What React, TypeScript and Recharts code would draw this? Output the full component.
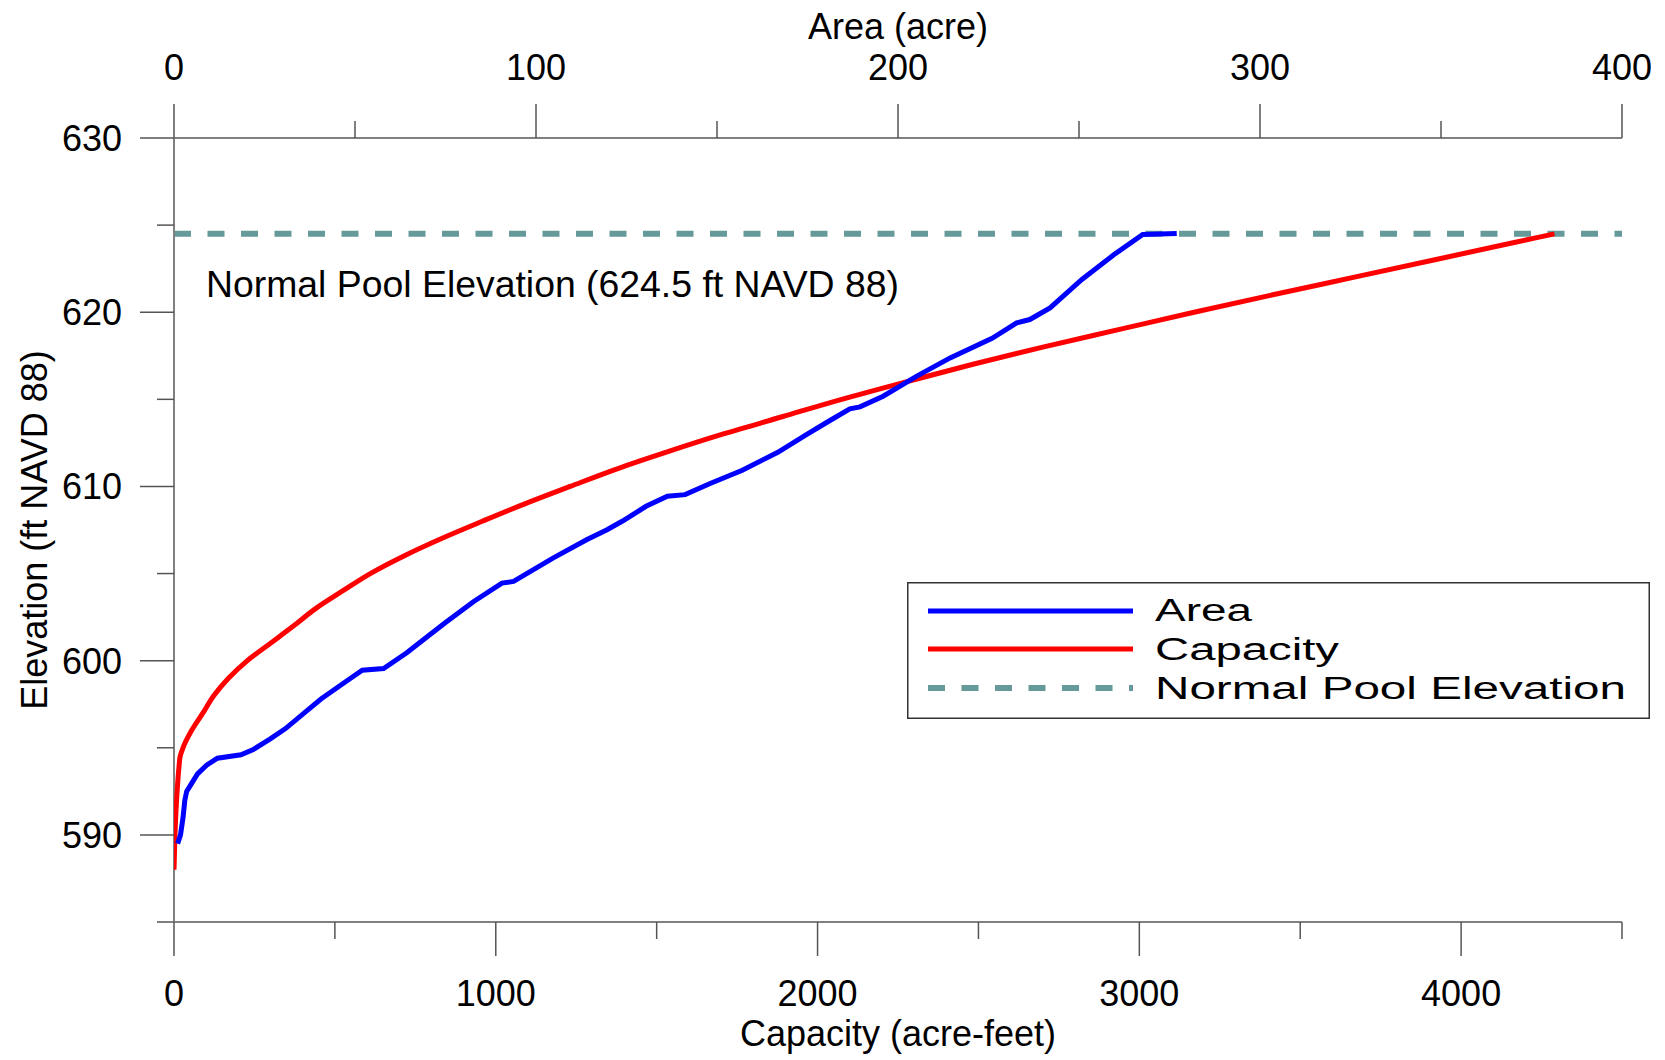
import React from 'react';
import { ScatterChart, Scatter, XAxis, YAxis, ReferenceLine, Legend } from 'recharts';

// elevation (ft NAVD 88) vs surface area (acre)
const areaElev = [589.5, 590, 591, 592, 592.5, 593, 593.5, 594, 594.4, 594.6, 594.9, 595.5, 596.1, 597, 597.8, 598.8, 599.45, 599.55, 600.45, 601.3, 602.2, 603.4, 604.45, 604.55, 605.9, 606.95, 607.5, 608, 608.86, 609.44, 609.53, 610.17, 610.93, 611.96, 612.98, 613.7, 614.45, 614.57, 615.18, 616.33, 617.38, 618.5, 619.39, 619.58, 620.25, 621.88, 623.31, 624.46, 624.52];
const areaAcres = [1.0, 1.8, 2.5, 3.0, 3.5, 5.0, 6.5, 9.0, 12.0, 18.5, 21.9, 26.5, 30.8, 36, 40.6, 47.5, 52.0, 57.9, 64.3, 69.5, 75.1, 82.8, 90.6, 93.8, 104.8, 114.1, 119.5, 123.8, 130.4, 136.3, 141.2, 148.1, 157.0, 166.8, 174.7, 180.5, 186.7, 189.5, 195.9, 205.2, 214.4, 226, 232.8, 236.4, 242.0, 250.8, 259.7, 267.6, 277.0];

// elevation vs storage capacity (acre-feet)
const capElev = [588, 590, 592, 594, 594.5, 595, 596, 597, 598, 599, 600, 601, 602, 603, 604, 605, 606, 607, 608, 609, 610, 611, 612, 613, 614, 615, 616, 617, 618, 619, 620, 621, 622, 623, 624, 624.5];
const capAcreFt = [0, 3, 8, 16, 19, 28, 55, 90, 124, 170, 228, 300, 372, 441, 524, 610, 713, 830, 958, 1090, 1231, 1375, 1535, 1705, 1890, 2075, 2275, 2480, 2700, 2935, 3170, 3415, 3665, 3915, 4165, 4290];

const normalPool = 624.5;

const capTicks = [0, 500, 1000, 1500, 2000, 2500, 3000, 3500, 4000, 4500];
const areaTicks = [0, 50, 100, 150, 200, 250, 300, 350, 400];
const elevTicks = [585, 590, 595, 600, 605, 610, 615, 620, 625, 630];

const areaData = areaElev.map((e, i) => ({ elev: e, area: areaAcres[i] }));
const capData = capElev.map((e, i) => ({ elev: e, capacity: capAcreFt[i] }));

const FONT = '"Liberation Sans", Arial, sans-serif';
const AXIS = '#808080';
const TICK = '#555555';
const POOL = '#669999';

const noDot = () => <g />;

const BottomTick = (props: any) => {
  const { x, y, payload } = props;
  const major = payload.value % 1000 === 0;
  return (
    <g>
      <line x1={x} y1={y} x2={x} y2={y + (major ? 34 : 17)} stroke={TICK} strokeWidth={1.5} />
      {major && (
        <text x={x} y={y + 84} textAnchor="middle" fontSize={36} fontFamily={FONT} fill="#000">
          {payload.value}
        </text>
      )}
    </g>
  );
};

const TopTick = (props: any) => {
  const { x, y, payload } = props;
  const major = payload.value % 100 === 0;
  return (
    <g>
      <line x1={x} y1={y} x2={x} y2={y - (major ? 34 : 17)} stroke={TICK} strokeWidth={1.5} />
      {major && (
        <text x={x} y={y - 58} textAnchor="middle" fontSize={36} fontFamily={FONT} fill="#000">
          {payload.value}
        </text>
      )}
    </g>
  );
};

const LeftTick = (props: any) => {
  const { x, y, payload } = props;
  const major = payload.value % 10 === 0;
  return (
    <g>
      <line x1={x} y1={y} x2={x - (major ? 34 : 17)} y2={y} stroke={TICK} strokeWidth={1.5} />
      {major && (
        <text x={x - 52} y={y + 13} textAnchor="end" fontSize={36} fontFamily={FONT} fill="#000">
          {payload.value}
        </text>
      )}
    </g>
  );
};

const LegendBox = () => (
  <svg width={743} height={137} style={{ display: 'block' }}>
    <rect x={0.75} y={0.75} width={741.5} height={135.5} fill="#fff" stroke="#333" strokeWidth={1.5} />
    <line x1={21} y1={29} x2={226} y2={29} stroke="#0000ff" strokeWidth={5} />
    <line x1={21} y1={67} x2={226} y2={67} stroke="#ff0000" strokeWidth={5} />
    <line x1={21} y1={106} x2={226} y2={106} stroke={POOL} strokeWidth={6} strokeDasharray="17 16.5" />
    <text x={248} y={39} fontSize={31} fontFamily={FONT} textLength={97} lengthAdjust="spacingAndGlyphs">Area</text>
    <text x={248} y={78} fontSize={31} fontFamily={FONT} textLength={184} lengthAdjust="spacingAndGlyphs">Capacity</text>
    <text x={248} y={117} fontSize={31} fontFamily={FONT} textLength={471} lengthAdjust="spacingAndGlyphs">Normal Pool Elevation</text>
  </svg>
);

export default function App() {
  return (
    <div style={{ position: 'absolute', left: 0, top: 0, fontFamily: FONT }}>
      <ScatterChart width={1665} height={1060} margin={{ top: 0, right: 43, bottom: 0, left: 0 }}>
        <XAxis
          xAxisId="cap"
          dataKey="capacity"
          type="number"
          orientation="bottom"
          domain={[0, 4500]}
          ticks={capTicks}
          interval={0}
          height={138}
          tickSize={0}
          tickMargin={0}
          tick={<BottomTick />}
          axisLine={{ stroke: AXIS, strokeWidth: 2 }}
          allowDataOverflow
          label={(p: any) => {
            const vb = p.viewBox;
            return (
              <text x={vb.x + vb.width / 2} y={vb.y + 124} textAnchor="middle" fontSize={36} fontFamily={FONT} fill="#000">
                Capacity (acre-feet)
              </text>
            );
          }}
        />
        <XAxis
          xAxisId="area"
          dataKey="area"
          type="number"
          orientation="top"
          domain={[0, 400]}
          ticks={areaTicks}
          interval={0}
          height={138}
          tickSize={0}
          tickMargin={0}
          tick={<TopTick />}
          axisLine={{ stroke: AXIS, strokeWidth: 2 }}
          allowDataOverflow
          label={(p: any) => {
            const vb = p.viewBox;
            return (
              <text x={vb.x + vb.width / 2} y={vb.y + 39} textAnchor="middle" fontSize={36} fontFamily={FONT} fill="#000">
                Area (acre)
              </text>
            );
          }}
        />
        <YAxis
          yAxisId="elev"
          dataKey="elev"
          type="number"
          domain={[585, 630]}
          ticks={elevTicks}
          interval={0}
          width={174}
          tickSize={0}
          tickMargin={0}
          tick={<LeftTick />}
          axisLine={{ stroke: AXIS, strokeWidth: 2 }}
          allowDataOverflow
          label={(p: any) => {
            const vb = p.viewBox;
            const cx = 47;
            const cy = vb.y + vb.height / 2;
            return (
              <text x={cx} y={cy} transform={`rotate(-90 ${cx} ${cy})`} textAnchor="middle" fontSize={36} fontFamily={FONT} fill="#000">
                Elevation (ft NAVD 88)
              </text>
            );
          }}
        />
        <ReferenceLine
          y={normalPool}
          xAxisId="cap"
          yAxisId="elev"
          stroke={POOL}
          strokeWidth={6}
          strokeDasharray="17 16.5"
          label={(p: any) => {
            const vb = p.viewBox;
            return (
              <text x={vb.x + 32} y={vb.y + 63} fontSize={36} fontFamily={FONT} fill="#000" textLength={693} lengthAdjust="spacingAndGlyphs">
                Normal Pool Elevation (624.5 ft NAVD 88)
              </text>
            );
          }}
        />
        <Scatter
          name="Capacity"
          data={capData}
          xAxisId="cap"
          yAxisId="elev"
          shape={noDot}
          lineJointType="monotoneY"
          line={{ stroke: '#ff0000', strokeWidth: 5, fill: 'none' }}
          isAnimationActive={false}
        />
        <Scatter
          name="Area"
          data={areaData}
          xAxisId="area"
          yAxisId="elev"
          shape={noDot}
          line={{ stroke: '#0000ff', strokeWidth: 5, fill: 'none' }}
          isAnimationActive={false}
        />
        <Legend
          layout="vertical"
          align="center"
          verticalAlign="middle"
          content={<LegendBox />}
          wrapperStyle={{ left: 907, top: 582, width: 743, height: 137 }}
        />
      </ScatterChart>
    </div>
  );
}
